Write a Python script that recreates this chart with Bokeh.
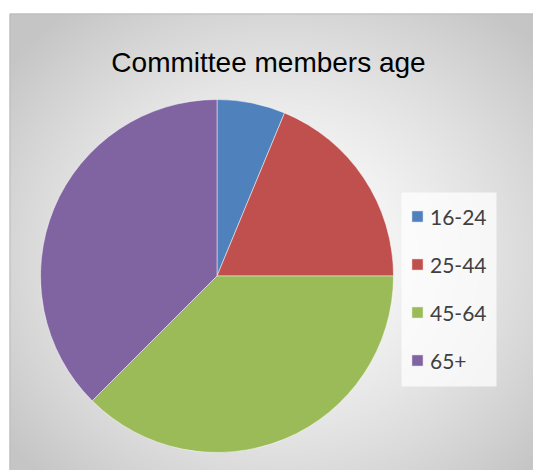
import numpy as np
from bokeh.plotting import figure
from bokeh.models import Range1d, Legend, LegendItem
from bokeh.core.properties import value
from bokeh.embed import file_html
from bokeh.resources import INLINE

title_text = "Committee members age"
categories = ["16-24", "25-44", "45-64", "65+"]
counts = [1, 3, 6, 6]
colors = ["#4f81bd", "#c0504d", "#9bbb59", "#8064a2"]

W, H = 533, 470
p = figure(width=W, height=H, output_backend="svg", toolbar_location=None,
           x_range=Range1d(0, W), y_range=Range1d(0, H),
           x_axis_location=None, y_axis_location=None, min_border=0,
           outline_line_color=None, background_fill_color="white",
           border_fill_color="#d2d2d2")
p.grid.visible = False

# radial gradient chart-area background
x0, ytop = 9, 13
bw, bh = W - x0 + 6, H - ytop
X, Yp = np.meshgrid(np.arange(bw) + x0 + 0.5, np.arange(bh)[::-1] + ytop + 0.5)
cx, cy = 280.0, 253.0
d = np.sqrt(((X - cx) / 290.0) ** 2 + ((Yp - cy) / 260.0) ** 2)
drop = np.minimum(45.0 * d ** 1.4, 58.0)
g = np.clip(255 - drop, 0, 255).astype(np.uint32)
img = (np.uint32(255) << 24) | (g << 16) | (g << 8) | g
p.image_rgba(image=[img.astype(np.uint32)], x=x0, y=0, dw=bw, dh=bh)
# chart area border
p.line(x=[x0 + 0.5, x0 + 0.5, W + 5], y=[0, H - ytop - 0.5, H - ytop - 0.5],
       line_color="#bcbcbc", line_width=1)

# pie
total = float(sum(counts))
cum = np.cumsum([0] + counts) / total
starts = [np.pi / 2 - 2 * np.pi * cum[i + 1] for i in range(len(counts))]
ends = [np.pi / 2 - 2 * np.pi * cum[i] for i in range(len(counts))]
pcx, pcy, pr = 216.5, H - 275.5, 176.5
items = []
for i, cat in enumerate(categories):
    rr = p.wedge(x=pcx, y=pcy, radius=pr, start_angle=starts[i], end_angle=ends[i],
                 fill_color=colors[i], line_color="white", line_width=0.8, line_alpha=0.6)
    items.append(LegendItem(label=cat, renderers=[rr]))

p.text(x=[268], y=[H - 62], text=[title_text], text_align="center",
       text_baseline="alphabetic", text_font=value("Liberation Sans"),
       text_font_size="28px", text_color="#000000")

# legend panel
p.quad(left=[401], right=[496], top=[H - 192], bottom=[H - 386],
       fill_color="white", fill_alpha=0.72, line_color=None)

legend = Legend(items=items, location=(410, H - 387 + 12), orientation="vertical",
                glyph_width=14, glyph_height=14, label_height=30, label_standoff=6,
                spacing=18, padding=10, margin=0,
                label_text_font="Lato", label_text_font_size="21px",
                label_text_color="#404040",
                background_fill_alpha=0.0,
                border_line_color=None)
p.add_layout(legend)

open("out.html", "w").write(file_html(p, INLINE))
